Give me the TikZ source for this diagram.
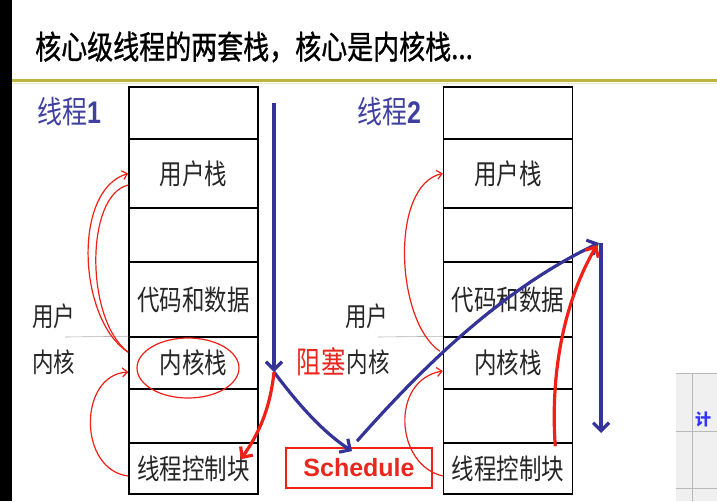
\documentclass[tikz,border=0pt]{standalone}
\usepackage{graphicx}
\usepackage{fontspec}
\setmainfont{Noto Sans CJK SC}
\newfontfamily\titlef[FakeBold=1]{Noto Sans CJK SC}
\newfontfamily\lat{Liberation Sans}
\usetikzlibrary{arrows.meta}
\definecolor{blueT}{RGB}{64,64,160}
\definecolor{blueA}{RGB}{52,52,152}
\definecolor{redA}{RGB}{240,32,22}
\definecolor{redT}{RGB}{232,40,30}
\definecolor{oliveL}{RGB}{190,182,60}
\newcommand\tallt[1]{\scalebox{1}[1.25]{#1}}
\begin{document}
\begin{tikzpicture}[x=1pt,y=-1pt,
  cell/.style={draw=black, line width=1.5pt, minimum width=129pt, inner sep=0pt,
    font=\fontsize{22.5}{22.5}\selectfont, text=black!85},
  side/.style={font=\fontsize{21.5}{21.5}\selectfont, text=black!85, inner sep=0pt},
  thread/.style={font=\fontsize{25}{25}\selectfont, text=blueT, inner sep=0pt, anchor=west},
  redthin/.style={draw=redA, line width=1.2pt},
  redthinarrow/.style={redthin, -{Straight Barb[length=5pt,width=9pt]}},
  redthick/.style={draw=redA, line width=3.2pt, -{Straight Barb[length=8pt,width=15pt]}},
  bluethick/.style={draw=blueA, line width=3.2pt, -{Straight Barb[length=8pt,width=16pt]}},
  sepline/.style={draw=gray!60, line width=0.6pt}]
\useasboundingbox (0,0) rectangle (717,501);
\fill[white] (0,0) rectangle (717,501);
\fill[black] (0,0) rectangle (12,501);
\draw[oliveL, line width=3pt] (12,80) -- (717,80);
\draw[oliveL!30, line width=1pt] (12,83) -- (717,83);

% photo fragment bottom right
\fill[gray!12] (676,373) rectangle (717,501);
\draw[gray!55, line width=0.8pt] (676,373) -- (717,373) (692,373) -- (692,501) (676,431) -- (717,431) (676,488) -- (717,488);
\node[font=\fontsize{16}{16}\selectfont\bfseries, text=blue!80, inner sep=0pt, anchor=west] (calc) at (695,419) {计};

% title
\node[anchor=west, inner sep=0pt, font=\titlef\fontsize{26}{26}\selectfont] (title) at (35,47) {\tallt{核心级线程的两套栈，核心是内核栈...}};

% stack 1
\node[cell, minimum height=52pt] (a1) at (193.5,113) {};
\node[cell, minimum height=69pt] (a2) at (193.5,173.5) {\tallt{用户栈}};
\node[cell, minimum height=54pt] (a3) at (193.5,235) {};
\node[cell, minimum height=75pt] (a4) at (193.5,299.5) {\tallt{代码和数据}};
\node[cell, minimum height=52pt] (a5) at (193.5,363) {\tallt{内核栈}};
\node[cell, minimum height=54pt] (a6) at (193.5,416) {};
\node[cell, minimum height=51pt] (a7) at (193.5,468.5) {\tallt{线程控制块}};

% stack 2
\node[cell, minimum height=52pt] (b1) at (508,113) {};
\node[cell, minimum height=69pt] (b2) at (508,173.5) {\tallt{用户栈}};
\node[cell, minimum height=54pt] (b3) at (508,235) {};
\node[cell, minimum height=75pt] (b4) at (508,299.5) {\tallt{代码和数据}};
\node[cell, minimum height=52pt] (b5) at (508,363) {\tallt{内核栈}};
\node[cell, minimum height=54pt] (b6) at (508,416) {};
\node[cell, minimum height=51pt] (b7) at (508,468.5) {\tallt{线程控制块}};

% labels
\node[thread] (t1) at (37,112) {\tallt{线程{\lat\bfseries 1}}};
\node[thread] (t2) at (357,112) {\tallt{线程{\lat\bfseries 2}}};
\node[side] (u1) at (53.5,316) {\tallt{用户}};
\node[side] (k1) at (53.5,362) {\tallt{内核}};
\node[side] (u2) at (366.5,316) {\tallt{用户}};
\node[side] (k2) at (368,362) {\tallt{内核}};
\node[font=\fontsize{24.5}{24.5}\selectfont, text=redT, inner sep=0pt, anchor=east] (blk) at (346,362) {\tallt{阻塞}};
\coordinate (s1) at (65,337);
\coordinate (s2) at (378,337);
\draw[sepline] (s1) -- (a5.north west);
\draw[sepline] (s2) -- (b5.north west);

% schedule
\node[draw=redA, line width=1.8pt, minimum width=146pt, minimum height=40pt, inner sep=0pt,
  font=\lat\bfseries\fontsize{25}{25}\selectfont, text=redT] (sched) at (359,468) {Schedule};

% red thin curves, thread 1
\draw[redthinarrow] ([yshift=-16pt]a5.north west) .. controls (78,320) and (72,190) .. (a2.west);
\draw[redthin] ([yshift=-11.5pt]a2.west) .. controls (85,195) and (85,320) .. ([yshift=-16pt]a5.north west);
\draw[redthinarrow] ([yshift=-7.5pt]a7.west) .. controls (78,470) and (78,375) .. ([yshift=-9pt]a5.west);
\draw[redthin] ([xshift=-5.5pt,yshift=-5pt]a5.center) ellipse [x radius=51pt, y radius=30pt];

% red thin curves, thread 2
\draw[redthinarrow] ([xshift=-3pt,yshift=-15pt]b5.north west) .. controls (395,320) and (390,185) .. (b2.west);
\draw[redthinarrow] ([yshift=-7.5pt]b7.west) .. controls (395,465) and (390,380) .. ([yshift=-8pt]b5.west);

% key points
\coordinate (top1) at (274,103);
\coordinate (block) at (274,372);
\coordinate (top2) at (599,243);
\coordinate (end2) at (601,433);

% blue arrows
\draw[bluethick] (top1) -- (block);
\draw[bluethick] (block) .. controls (295,400) and (320,430) .. ([xshift=-7pt,yshift=-4pt]sched.north);
\draw[bluethick] ([xshift=-2pt,yshift=6pt]sched.north) .. controls (420,370) and (500,290) .. (top2);
\draw[bluethick] ([xshift=2pt]top2) -- (end2);

% red thick arrows
\draw[redthick] (block) .. controls (270,410) and (258,435) .. ([xshift=-18pt,yshift=-17pt]a7.north east);
\draw[redthick] ([xshift=-18pt,yshift=-4pt]b7.north east) .. controls (550,370) and (565,300) .. ([xshift=-2pt,yshift=-2pt]top2);
\end{tikzpicture}
\end{document}
